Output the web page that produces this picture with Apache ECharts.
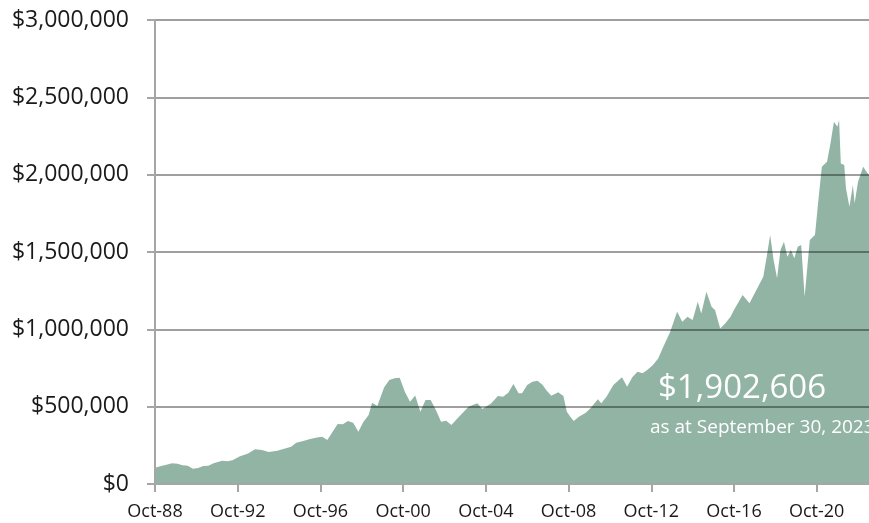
<!DOCTYPE html>
<html>
<head>
<meta charset="utf-8">
<script src="https://cdn.jsdelivr.net/npm/echarts@6/dist/echarts.min.js"></script>
<style>
html,body{margin:0;padding:0;background:#fff;overflow:hidden;}
#chart{width:880px;height:523px;}
</style>
</head>
<body>
<div id="chart"></div>
<script>
// Month offsets from Oct-1988 (0 = Oct-88)
const monthIdx = [0,1,3,6,10,13,16,19,22,25,28,31,34,39,42,45,49,54,58,62,66,71,76,79,82,86,90,94,97,100,
  106,109,112,115,118,121,124,126,129,133,136,139,142,145,148,151,154,157,160,163,166,169,172,176,182,187,190,195,199,202,
  205,208,211,213,216,219,222,225,227,230,234,237,239,241,243,246,250,253,257,259,262,266,271,274,277,280,283,286,289,292,
  295,299,303,306,309,312,315,317,320,323,325,328,331,334,336,341,345,349,353,355,357,359,361,363,365,367,369,371,373,375,
  377,380,383,385,387,390,392,394,396,397,398,400,401,403,405,406,408,411,413,415,417,419];
// Portfolio value (dollars)
const portfolioValue = [105000,112000,114000,123000,134000,131000,121000,118000,99000,103000,116000,118000,134000,151000,147000,153000,177000,198000,224000,220000,207000,215000,231000,241000,267000,278000,291000,300000,306000,284000,
  388000,386000,407000,396000,338000,403000,446000,526000,504000,625000,672000,683000,687000,597000,532000,573000,467000,543000,543000,478000,403000,409000,381000,430000,500000,522000,485000,520000,569000,564000,
  590000,646000,586000,586000,640000,661000,668000,640000,608000,571000,593000,569000,467000,435000,407000,435000,461000,493000,548000,522000,564000,640000,690000,629000,690000,726000,716000,741000,769000,812000,
  888000,984000,1114000,1049000,1081000,1060000,1178000,1103000,1243000,1146000,1125000,1006000,1039000,1081000,1125000,1222000,1168000,1254000,1340000,1469000,1610000,1448000,1330000,1513000,1566000,1469000,1513000,1459000,1534000,1545000,
  1211000,1577000,1610000,1836000,2051000,2083000,2202000,2342000,2310000,2353000,2073000,2062000,1911000,1793000,1933000,1815000,1954000,2051000,2018000,1990000,1950000,1902606];
const xTickLabels = ['Oct-88','Oct-92','Oct-96','Oct-00','Oct-04','Oct-08','Oct-12','Oct-16','Oct-20'];
const yTicks = [0,500000,1000000,1500000,2000000,2500000,3000000];
const finalValueText = '$1,902,606';
const asAtText = 'as at September 30, 2023';

const seriesData = monthIdx.map((m, i) => [m, portfolioValue[i]]);
const FONT = 'Open Sans';

const chart = echarts.init(document.getElementById('chart'), null, {renderer: 'canvas'});
chart.setOption({
  animation: false,
  backgroundColor: '#ffffff',
  grid: {left: 155, right: 0, top: 20, bottom: 39, containLabel: false},
  xAxis: {
    type: 'value', min: 0, max: 419, interval: 48, z: 5,
    axisLine: {show: true, lineStyle: {color: '#a6a6a6', width: 2}},
    axisTick: {show: true, length: 8, lineStyle: {color: '#a6a6a6', width: 2}},
    splitLine: {show: false},
    axisLabel: {
      margin: 19, fontSize: 18, fontFamily: FONT, color: '#1a1a1a',
      showMinLabel: true, showMaxLabel: true,
      formatter: v => (v % 48 === 0 && xTickLabels[v / 48]) ? xTickLabels[v / 48] : ''
    }
  },
  yAxis: {
    type: 'value', min: yTicks[0], max: yTicks[yTicks.length - 1], interval: 500000, z: 5,
    axisLine: {show: true, lineStyle: {color: '#a6a6a6', width: 2}},
    axisTick: {show: true, length: 8, lineStyle: {color: '#a6a6a6', width: 2}},
    splitLine: {show: true, lineStyle: {color: 'rgba(0,0,0,0.5)', width: 1.5}},
    axisLabel: {
      margin: 26, fontSize: 23, fontFamily: FONT, color: '#1a1a1a',
      formatter: v => '$' + v.toLocaleString('en-US')
    }
  },
  series: [{
    type: 'line', data: seriesData, showSymbol: false, symbol: 'none',
    lineStyle: {width: 0}, areaStyle: {color: '#92b4a5', opacity: 1}, z: 2
  }],
  graphic: [
    {type: 'text', left: 658, top: 372, z: 10,
     style: {text: finalValueText, fill: '#ffffff', font: '33px "Open Sans"'}},
    {type: 'text', left: 650, top: 418, z: 10,
     style: {text: asAtText, fill: '#ffffff', font: '19px "Open Sans"'}}
  ]
});
</script>
</body>
</html>
